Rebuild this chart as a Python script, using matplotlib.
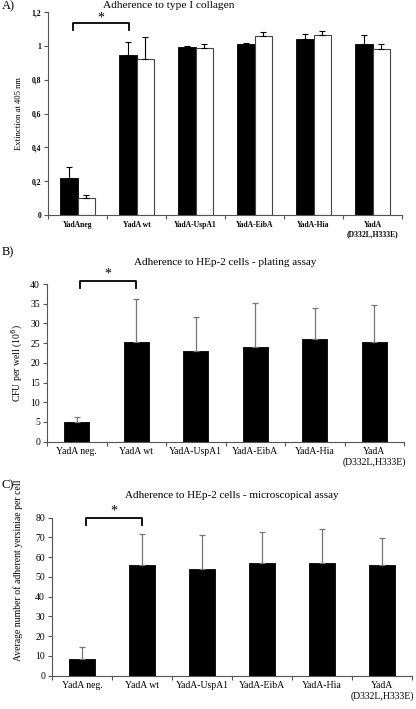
import matplotlib
matplotlib.use("Agg")
import matplotlib.pyplot as plt
import numpy as np

plt.rcParams['font.family'] = ['Liberation Serif', 'DejaVu Serif']

# categories
cats = ["YadA neg.", "YadA wt", "YadA-UspA1", "YadA-EibA", "YadA-Hia", "YadA\n(D332L,H333E)"]
cats_a = ["YadAneg", "YadA wt", "YadA-UspA1", "YadA-EibA", "YadA-Hia", "YadA\n(D332L,H333E)"]

# A) collagen, two series (black / white)
a_black = [0.22, 0.95, 0.995, 1.01, 1.04, 1.015]
a_black_err = [0.065, 0.075, 0.006, 0.01, 0.03, 0.05]
a_white = [0.10, 0.925, 0.99, 1.06, 1.065, 0.985]
a_white_err = [0.02, 0.13, 0.025, 0.025, 0.025, 0.025]
a_ticks = [0, 0.2, 0.4, 0.6, 0.8, 1.0, 1.2]
a_ticklabels = ["0", "0,2", "0,4", "0,6", "0,8", "1", "1,2"]

# B) plating assay
b_vals = [5.0, 25.4, 23.1, 24.0, 26.0, 25.4]
b_err = [1.2, 10.9, 8.6, 11.3, 7.9, 9.3]

# C) microscopical assay
c_vals = [8.3, 56.0, 54.0, 57.0, 57.0, 56.3]
c_err = [6.4, 15.7, 17.4, 16.0, 17.5, 13.2]

W, H = 416, 709
fig = plt.figure(figsize=(W / 100, H / 100), dpi=100)

def px_axes(l, t, r, b):
    return fig.add_axes([l / W, 1 - b / H, (r - l) / W, (b - t) / H])

def style(ax, ymax):
    for s in ["top", "right"]:
        ax.spines[s].set_visible(False)
    ax.set_xlim(-0.5, 5.5)
    ax.set_ylim(0, ymax)
    ax.set_xticks(np.arange(-0.5, 6, 1), minor=False)
    ax.tick_params(axis='x', which='major', length=3, labelbottom=False)
    ax.set_xticks(np.arange(6), minor=True)
    ax.tick_params(axis='x', which='minor', length=0, pad=4)
    ax.tick_params(axis='y', length=3, pad=2)
    for s in ["left", "bottom"]:
        ax.spines[s].set_color("#555555")
    ax.tick_params(colors="#555555", labelcolor="black")

def bracket(ax, x0, x1, ytop, ybot, ystar):
    ax.plot([x0, x0, x1, x1], [ybot, ytop, ytop, ybot], color="black", lw=1.3, clip_on=False)
    ax.text((x0 + x1) / 2, ystar, "*", ha="center", va="center", fontsize=10, clip_on=False)

x = np.arange(6)

# ---- panel A
axA = px_axes(48, 12.3, 402, 215)
style(axA, 1.2)
w = 0.29
axA.bar(x - w / 2, a_black, w, color="black", edgecolor="black", lw=0.6)
axA.bar(x + w / 2, a_white, w, color="white", edgecolor="#444444", lw=0.8)
axA.errorbar(x - w / 2, a_black, yerr=[np.zeros(6), a_black_err], fmt="none",
             ecolor="black", elinewidth=0.8, capsize=2.5, capthick=0.8)
axA.errorbar(x + w / 2, a_white, yerr=[np.zeros(6), a_white_err], fmt="none",
             ecolor="black", elinewidth=0.8, capsize=2.5, capthick=0.8)
axA.set_yticks(a_ticks)
axA.set_yticklabels(a_ticklabels, fontsize=5.5, fontweight="bold")
axA.set_xticklabels(cats_a, minor=True, fontsize=5.5, fontweight="bold")
axA.set_ylabel("Extinction at 405 nm", fontsize=6.2, labelpad=6)
fig.text(169 / W, 1 - 5.5 / H, "Adherence to type I collagen", fontsize=8.2,
         ha="center", va="center")
bracket(axA, -0.08, 0.87, 1.138, 1.095, 1.165)
fig.text(2 / W, 1 - 6 / H, "A)", fontsize=9, va="center")

# ---- panel B
axB = px_axes(47, 284, 404, 441.7)
style(axB, 40)
axB.bar(x, b_vals, 0.42, color="black", edgecolor="black", lw=0.6)
axB.errorbar(x, b_vals, yerr=[np.zeros(6), b_err], fmt="none",
             ecolor="#777777", elinewidth=0.9, capsize=2, capthick=0.9)
axB.set_yticks(np.arange(0, 41, 5))
axB.tick_params(axis='y', labelsize=7)
axB.set_xticklabels(cats, minor=True, fontsize=7)
axB.set_ylabel("CFU per well (10$^6$)", fontsize=7, labelpad=4)
axB.set_title("Adherence to HEp-2 cells - plating assay", fontsize=8, pad=14)
bracket(axB, 0.05, 1.0, 40.8, 39.0, 42.6)
fig.text(2 / W, 1 - 252 / H, "B)", fontsize=9, va="center")

# ---- panel C
axC = px_axes(52, 517.7, 412, 675.7)
style(axC, 80)
axC.bar(x, c_vals, 0.42, color="black", edgecolor="black", lw=0.6)
axC.errorbar(x, c_vals, yerr=[np.zeros(6), c_err], fmt="none",
             ecolor="#777777", elinewidth=0.9, capsize=2, capthick=0.9)
axC.set_yticks(np.arange(0, 81, 10))
axC.tick_params(axis='y', labelsize=7)
axC.set_xticklabels(cats, minor=True, fontsize=7)
axC.set_title("Adherence to HEp-2 cells - microscopical assay", fontsize=8, pad=14)
bracket(axC, 0.07, 1.0, 80.0, 76.3, 83.5)
fig.text(18 / W, 1 - 570 / H, "Average number of adherent yersiniae per cell",
         fontsize=7, rotation=90, ha="center", va="center")
fig.text(2 / W, 1 - 485 / H, "C)", fontsize=9, va="center")

fig.savefig("out.png", dpi=100)
